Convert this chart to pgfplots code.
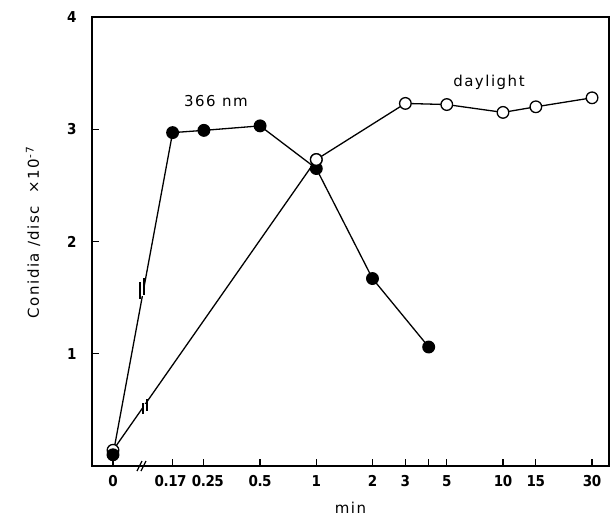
\documentclass[border=0pt]{standalone}
\usepackage{pgfplots}
\pgfplotsset{compat=1.18}
\usepackage{fontspec}
\setmainfont{DejaVu Sans}
\newfontfamily\labfont{DejaVu Sans}[LetterSpace=10]
\newfontfamily\tickfont{DejaVu Sans Condensed}[LetterSpace=-3]
\begin{document}
\begin{tikzpicture}
\begin{axis}[
  scale only axis, width=517pt, height=449pt,
  xmode=log, xmin=0.0629, xmax=36.97, ymin=0, ymax=4,
  axis line style={line width=1.4pt},
  xtick={0.0815,0.17,0.25,0.5,1,2,3,4,5,10,15,30},
  xticklabels={0,0.17\kern4pt,\kern8pt0.25,0.5,1,2,3,,5,10,15,30},
  ytick={1,2,3,4}, yticklabels={1,2,3,4},
  xminorticks=false, yminorticks=false,
  tick align=inside, tick pos=left,
  major tick length=7pt,
  every tick/.style={line width=1.2pt, black},
  /pgf/number format/assume math mode=true,
  ticklabel style={font=\tickfont\bfseries\fontsize{15}{17}\selectfont},
  xticklabel style={yshift=-6pt},
  yticklabel style={xshift=-12pt},
  xlabel={min},
  xlabel style={at={(axis description cs:0.5,-0.0935)},anchor=center,font=\labfont\fontsize{15}{17}\selectfont},
  ylabel={Conidia /disc \ ×10\textsuperscript{-7}},
  ylabel style={at={(axis description cs:-0.114,0.52)},anchor=center,font=\labfont\fontsize{15}{17}\selectfont},
  clip=false,
]
% daylight (open circles)
\addplot[black, line width=1.3pt, mark=*, mark options={fill=white, line width=1.3pt}, mark size=5.8pt]
  coordinates {(0.0815,0.14) (1,2.73) (3,3.23) (5,3.22) (10,3.15) (15,3.20) (30,3.28)};
% 366 nm (filled circles)
\addplot[black, line width=1.3pt, mark=*, mark options={fill=black, line width=1.3pt}, mark size=5.8pt]
  coordinates {(0.0815,0.10) (0.17,2.97) (0.25,2.99) (0.5,3.03) (1,2.65) (2,1.67) (4,1.06)};
\addplot[black, only marks, mark=*, mark options={fill=white, line width=1.3pt}, mark size=5.8pt]
  coordinates {(1,2.73)};
% axis break
\draw[line width=1.2pt] (axis cs:0.1165,0) ++(-5pt,-5pt) -- ++(5pt,10pt);
\draw[line width=1.2pt] (axis cs:0.1165,0) ++(-1pt,-5pt) -- ++(5pt,10pt);
% line breaks
\fill[white] (axis cs:0.1165,1.58) ++(-2.5pt,-7pt) rectangle ++(5pt,14pt);
\draw[line width=1.2pt] (axis cs:0.1165,1.58) ++(-2pt,-10pt) -- ++(0pt,17pt);
\draw[line width=1.2pt] (axis cs:0.1165,1.58) ++(2pt,-6pt) -- ++(0pt,17pt);
\fill[white] (axis cs:0.121,0.53) ++(-2.5pt,-3pt) rectangle ++(5pt,6pt);
\draw[line width=1.2pt] (axis cs:0.121,0.53) ++(-2pt,-7pt) -- ++(0pt,11pt);
\draw[line width=1.2pt] (axis cs:0.121,0.53) ++(2pt,-4pt) -- ++(0pt,12pt);
\node[font=\labfont\fontsize{15}{17}\selectfont] at (axis cs:0.290,3.25) {366 nm};
\node[font=\labfont\fontsize{15}{17}\selectfont] at (axis cs:8.41,3.42) {daylight};
\coordinate (ll) at (rel axis cs:0,0);
\coordinate (ur) at (rel axis cs:1,1);
\end{axis}
\pgfresetboundingbox
\path[use as bounding box] ([shift={(-92pt,-53pt)}]ll) rectangle ([shift={(2pt,17pt)}]ur);
\end{tikzpicture}
\end{document}
